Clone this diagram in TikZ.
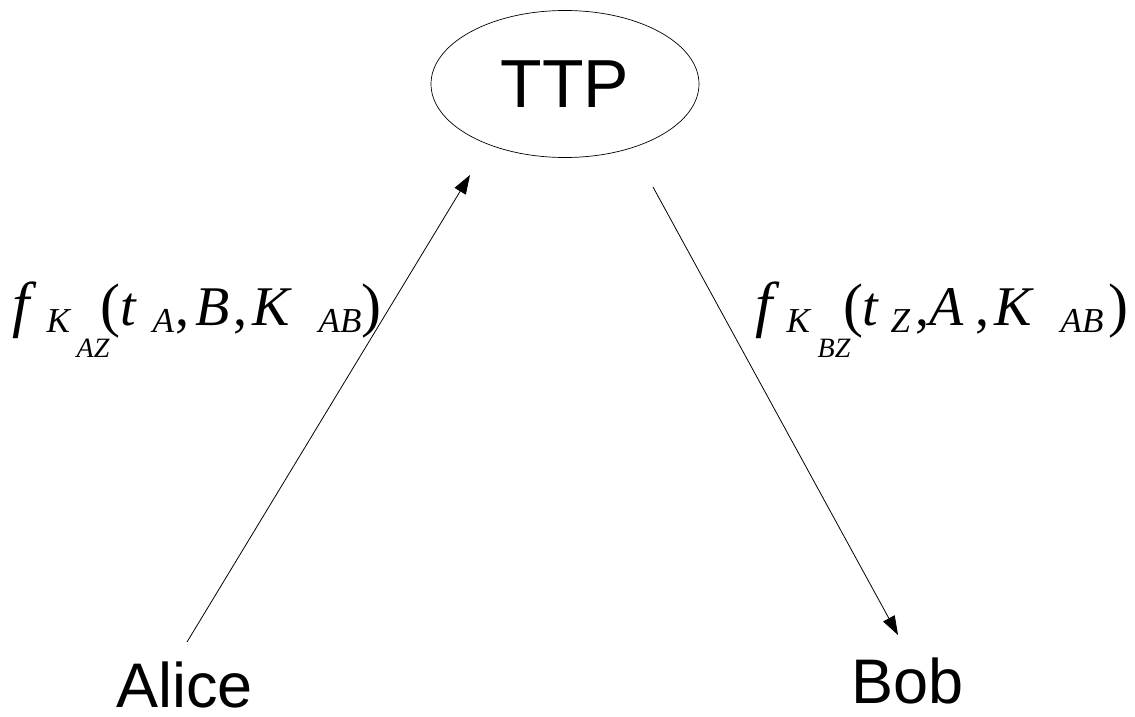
\documentclass[tikz,border=0pt]{standalone}
\usepackage{fontspec}
\setmainfont{Liberation Sans}
\newfontfamily\tnr{Liberation Serif}
\usetikzlibrary{shapes.geometric,arrows.meta}
\newcommand\putat[4]{\rlap{\hspace*{#1pt}\raisebox{#2pt}{\fontsize{#3}{#3}\selectfont #4}}}
\newcommand\putup[4]{\rlap{\hspace*{#1pt}\raisebox{#2pt}{\fontsize{#3}{#3}\selectfont\upshape #4}}}
\tikzset{
  party/.style={inner sep=0pt, anchor=base west, font=\fontsize{63}{70}\selectfont},
  ttp/.style={ellipse, draw, line width=0.7pt, minimum width=268pt, minimum height=147pt, inner sep=0pt, font=\fontsize{68}{70}\selectfont},
  msg/.style={line width=0.8pt, -{Triangle[length=19pt,width=13pt]}},
  lab/.style={inner sep=0pt, anchor=base west, font=\tnr\itshape}
}
\begin{document}
\begin{tikzpicture}[x=1pt,y=-1pt]
\useasboundingbox (0,0) rectangle (1135,716);
\node[ttp] (TTP) at (565,84) {TTP};
\node[party] (Alice) at (116,707) {Alice};
\node[party] (Bob) at (851,703) {Bob};
\coordinate (a1) at (187,642);
\coordinate (a2) at (470,175);
\coordinate (b1) at (653,187);
\coordinate (b2) at (898,635);
\draw[msg] (a1) -- (a2);
\draw[msg] (b1) -- (b2);
\node[lab] (L1) at (0,325) {%
  \putat{12}{0}{62}{f}%
  \putat{46}{-7}{35}{K}%
  \putat{76}{-32}{28}{AZ}%
  \putup{100}{0}{60}{(}%
  \putat{120}{0}{56}{t}%
  \putat{152}{-7}{35}{A}%
  \putup{175}{0}{56}{,}%
  \putat{195}{0}{56}{B}%
  \putup{233}{0}{56}{,}%
  \putat{252}{0}{56}{K}%
  \putat{318}{-7}{35}{AB}%
  \putup{361}{0}{60}{)}%
};
\node[lab] (L2) at (0,325) {%
  \putat{755}{0}{62}{f}%
  \putat{786}{-7}{35}{K}%
  \putat{817}{-32}{28}{BZ}%
  \putup{843}{0}{60}{(}%
  \putat{862}{0}{56}{t}%
  \putat{890}{-7}{35}{Z}%
  \putup{915}{0}{56}{,}%
  \putat{929}{0}{56}{A}%
  \putup{975}{0}{56}{,}%
  \putat{994}{0}{56}{K}%
  \putat{1060}{-7}{35}{AB}%
  \putup{1108}{0}{60}{)}%
};
\end{tikzpicture}
\end{document}
